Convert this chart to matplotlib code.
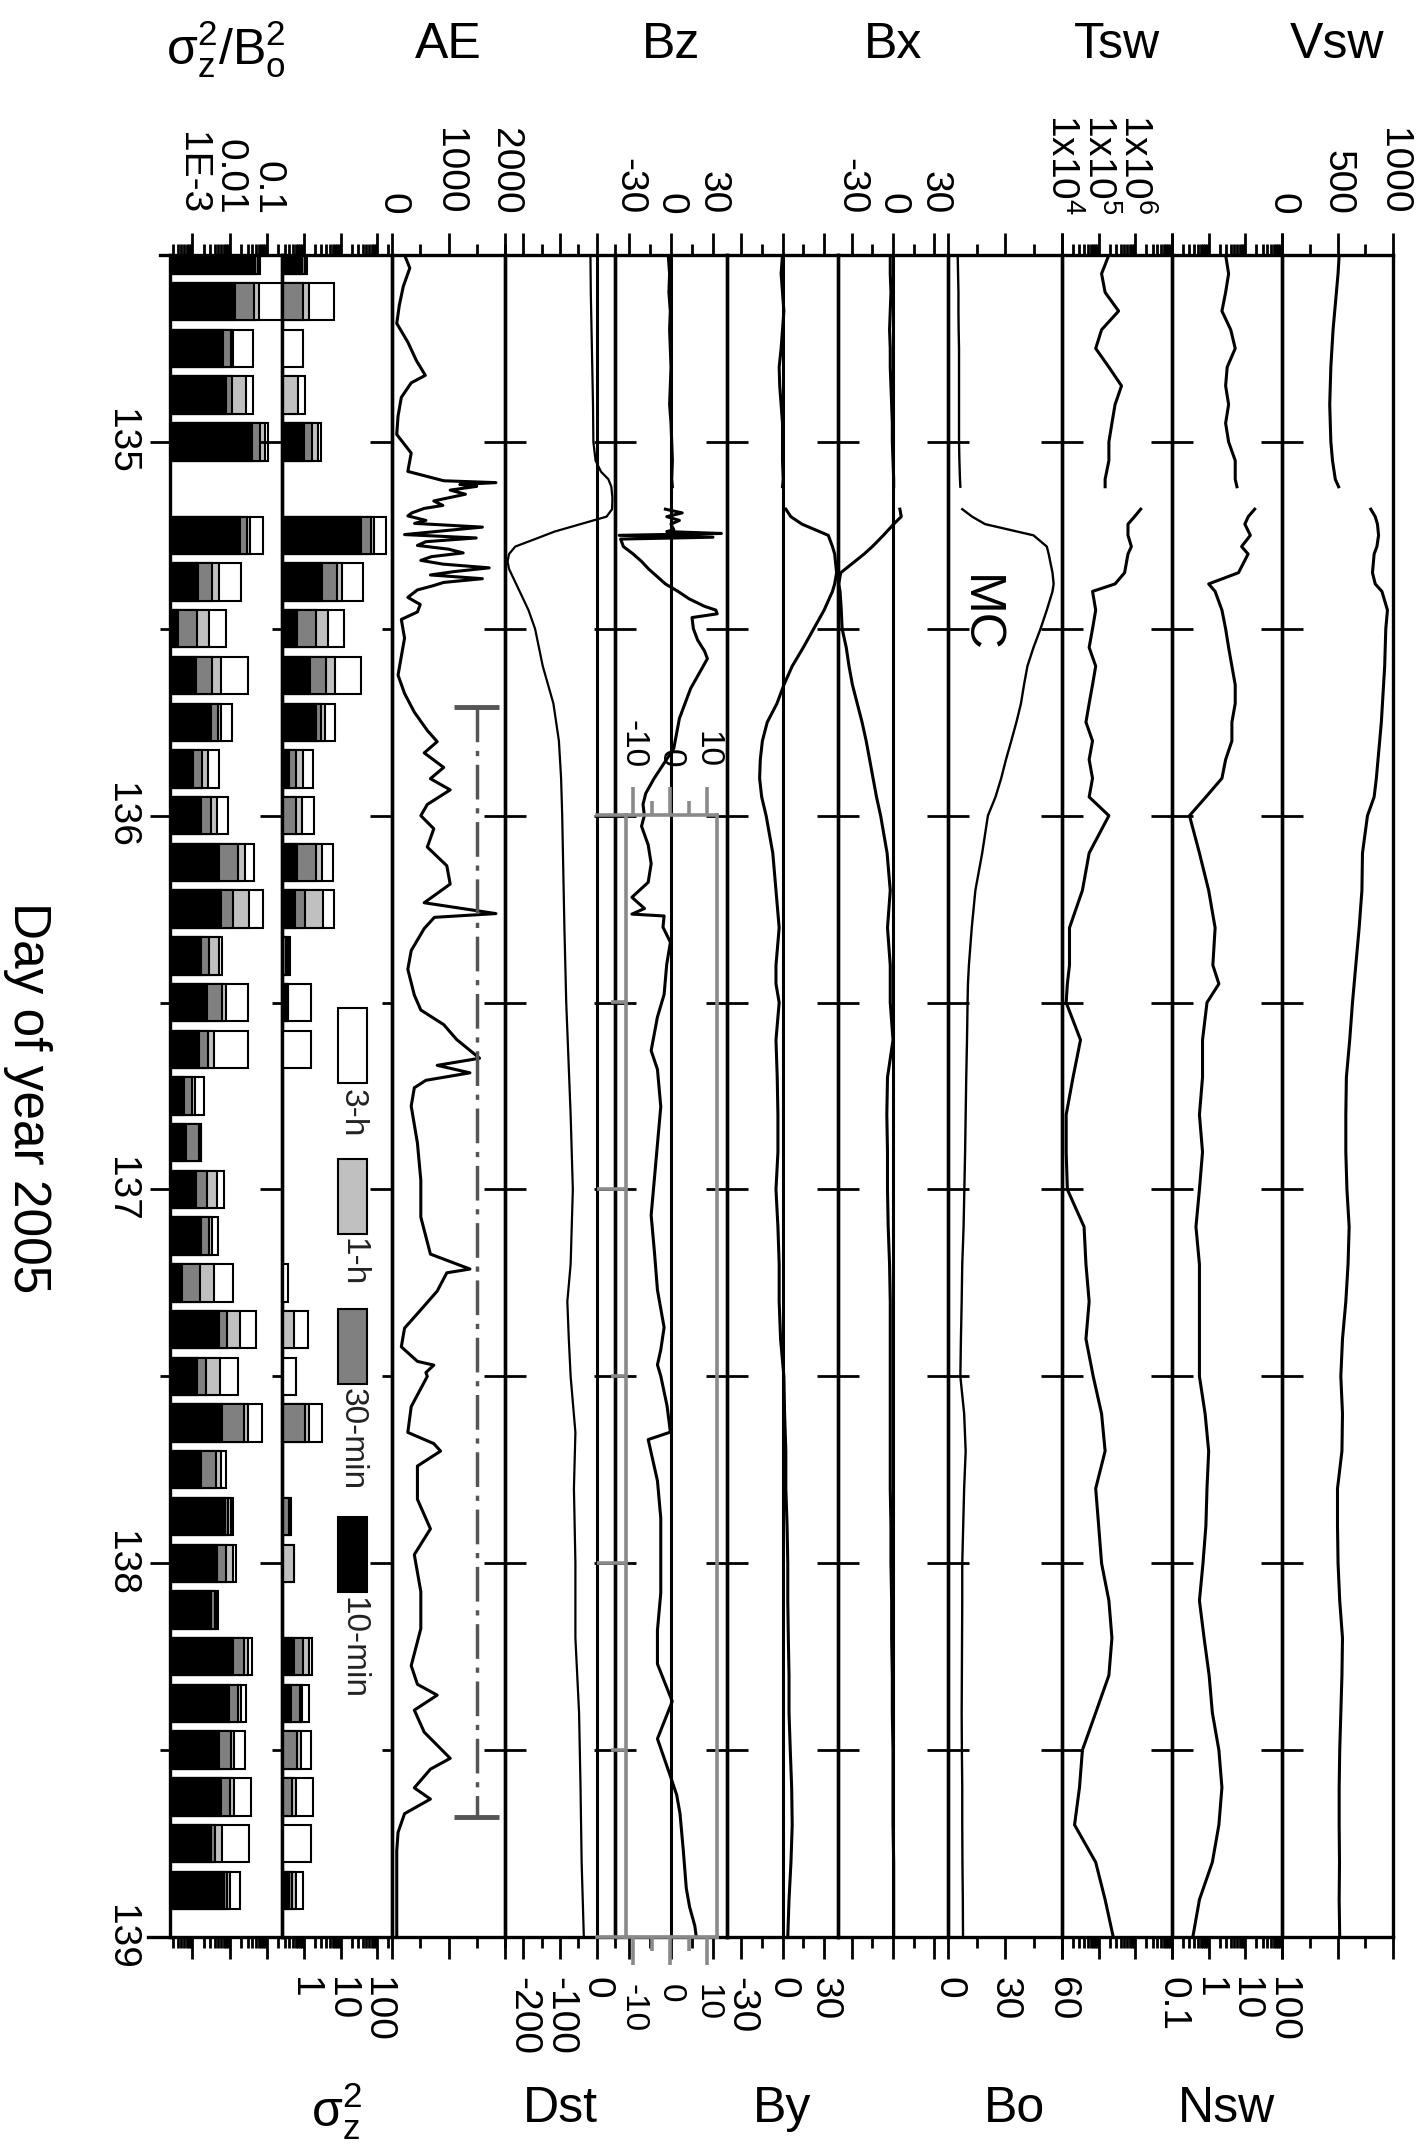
import numpy as np
import matplotlib
matplotlib.use("Agg")
import matplotlib.pyplot as plt
from matplotlib.ticker import FixedLocator, FixedFormatter, NullFormatter, LogLocator
from matplotlib.patches import Rectangle
from matplotlib.lines import Line2D
import matplotlib.transforms as mtransforms

plt.rcParams['font.family'] = ['Liberation Sans', 'DejaVu Sans']
plt.rcParams['mathtext.fontset'] = 'custom'
plt.rcParams['mathtext.rm'] = 'Liberation Sans'
plt.rcParams['mathtext.it'] = 'Liberation Sans:italic'
plt.rcParams['mathtext.bf'] = 'Liberation Sans:bold'
plt.rcParams['mathtext.sf'] = 'Liberation Sans'
plt.rcParams['mathtext.fallback'] = 'stixsans'

nan = np.nan

# ------------------------------------------------------------------ data
# 3-hour bar windows (day of year 2005)
bar_days = [134.500, 134.625, 134.750, 134.875, 135.000, 135.125, 135.250, 135.375,
            135.500, 135.625, 135.750, 135.875, 136.000, 136.125, 136.250, 136.375,
            136.500, 136.625, 136.750, 136.875, 137.000, 137.125, 137.250, 137.375,
            137.500, 137.625, 137.750, 137.875, 138.000, 138.125, 138.250, 138.375,
            138.500, 138.625, 138.750, 138.875]

# sigma_z^2 / B0^2
ratio_10min = [0.048, 0.014, 0.0065, 0.0080, 0.039, nan, 0.0183, 0.00145, 0.00042, 0.00125,
               0.0031, 0.00106, 0.0017, 0.0052, 0.0060, 0.00175, 0.0025, 0.0015, 0.0006, 0.00066,
               0.00123, 0.00168, 0.00052, 0.0052, 0.00136, 0.0064, 0.00175, 0.0074, 0.0047, 0.0031,
               0.0119, 0.0097, 0.0052, 0.0060, 0.0031, 0.0071]
ratio_30min = [0.057, 0.0435, 0.011, 0.0114, 0.066, nan, 0.0288, 0.0033, 0.0013, 0.0034,
               0.0050, 0.00178, 0.0032, 0.0168, 0.0119, 0.0028, 0.0061, 0.0026, 0.0010, 0.0015,
               0.0025, 0.0028, 0.0016, 0.0084, 0.0023, 0.0234, 0.0042, 0.0091, 0.0079, 0.0040,
               0.0234, 0.0168, 0.0111, 0.0103, 0.0041, 0.0087]
ratio_1h = [0.059, 0.059, 0.0126, 0.027, 0.089, nan, 0.0354, 0.0053, 0.0027, 0.0059,
            0.0059, 0.0026, 0.0045, 0.0254, 0.0333, 0.0052, 0.0079, 0.0038, 0.00115, 0.00168,
            0.0047, 0.0034, 0.0037, 0.019, 0.0055, 0.030, 0.0060, 0.0107, 0.0119, 0.0045,
            0.031, 0.020, 0.0131, 0.0131, 0.0064, 0.0103]
ratio_3h = [0.066, 0.25, 0.041, 0.042, 0.105, nan, 0.077, 0.020, 0.0080, 0.030,
            0.0114, 0.0052, 0.0089, 0.0435, 0.076, 0.0064, 0.030, 0.030, 0.0020, 0.00175,
            0.0071, 0.0049, 0.0126, 0.050, 0.0168, 0.071, 0.0079, 0.0119, 0.0146, 0.0049,
            0.039, 0.028, 0.026, 0.038, 0.033, 0.019]

# sigma_z^2
var_10min = [0.90, nan, nan, nan, 1.02, nan, 36.9, 3.1, 0.66, 1.45,
             2.06, 0.38, nan, 0.66, 0.56, nan, 0.34, nan, nan, nan,
             nan, nan, nan, nan, nan, nan, nan, nan, nan, nan,
             0.52, 0.44, nan, nan, nan, 0.38]
var_30min = [1.06, 0.96, nan, nan, 1.61, nan, 65.6, 8.0, 2.19, 4.06,
             2.98, 0.60, 0.61, 2.19, 1.04, 0.32, 0.355, nan, nan, nan,
             nan, nan, nan, nan, nan, 1.04, nan, 0.395, nan, nan,
             0.96, 0.78, 0.66, 0.47, nan, 0.47]
var_1h = [1.11, 1.36, nan, 0.68, 2.43, nan, 80.7, 10.7, 4.5, 6.8,
          3.66, 0.96, 0.87, 3.1, 3.3, 0.36, 0.36, nan, nan, nan,
          nan, nan, nan, 0.52, nan, 1.36, nan, 0.42, 0.52, nan,
          1.36, 0.90, 0.85, 0.60, nan, 0.60]
var_3h = [1.18, 6.5, 0.96, 1.06, 2.98, nan, 177.0, 41.7, 12.6, 35.4,
          7.2, 1.78, 1.89, 6.1, 6.4, 0.42, 1.51, 1.57, nan, nan,
          nan, nan, 0.36, 1.28, 0.60, 3.1, nan, 0.44, 0.54, nan,
          1.67, 1.36, 1.51, 1.78, 1.51, 0.96]

# solar wind time base (nan row = data gap)
t_sw = [134.50, 134.55, 134.60, 134.65, 134.70, 134.75, 134.80, 134.85, 134.90, 134.95,
        135.00, 135.05, 135.10, 135.12, 135.15,
        135.18, 135.20, 135.22, 135.25, 135.28, 135.30, 135.35, 135.38, 135.40, 135.45,
        135.50, 135.55, 135.60, 135.65, 135.70, 135.75, 135.80, 135.85, 135.90, 135.95, 136.00,
        136.10, 136.20, 136.30, 136.40, 136.45, 136.50, 136.60, 136.70, 136.80, 136.90,
        137.00, 137.10, 137.20, 137.30, 137.40, 137.50, 137.60, 137.70, 137.80, 137.90,
        138.00, 138.10, 138.20, 138.30, 138.40, 138.50, 138.60, 138.70, 138.80, 138.90, 139.00]
vsw = [515, 505, 490, 475, 460, 450, 440, 435, 430, 435, 440, 455, 480, 510, nan,
       800, 840, 860, 870, 855, 830, 815, 840, 900, 950, 935, 930, 925, 915, 905, 895, 880, 865, 850, 830, 770,
       725, 720, 695, 665, 650, 635, 610, 580, 575, 575, 585, 605, 595, 575, 545, 530, 545, 540, 500, 500,
       505, 520, 545, 540, 530, 520, 515, 515, 518, 515, 520]
nsw = [2.9, 3.5, 2.9, 2.3, 4.0, 5.3, 3.2, 2.9, 3.5, 2.9, 3.5, 5.3, 5.3, 5.9, nan,
       18, 12, 9.7, 13.7, 7.9, 11.9, 6.5, 1.0, 1.5, 2.3, 2.9, 3.5, 4.3, 5.3, 5.3, 4.3, 4.3, 2.9, 2.3, 0.84, 0.30,
       0.56, 1.0, 1.5, 1.3, 1.9, 0.9, 0.68, 0.68, 0.56, 0.68, 0.56, 0.45, 0.56, 0.56, 0.56, 0.56,
       0.8, 1.0, 0.9, 0.84, 0.7, 0.56, 0.75, 1.03, 1.26, 1.9, 2.3, 1.9, 1.26, 0.56, 0.37]
tsw = [1.9e5, 1.2e5, 1.5e5, 3.5e5, 1.2e5, 8.3e4, 1.9e5, 4.2e5, 2.8e5, 2.3e5, 1.9e5, 1.9e5, 1.5e5, 1.5e5, nan,
       1.4e6, 9.5e5, 6.3e5, 6.3e5, 7.8e5, 6.3e5, 5.1e5, 2.8e5, 6.8e4, 8.3e4, 6.8e4, 5.5e4, 8.3e4, 6.8e4,
       5.5e4, 4.5e4, 6.8e4, 5.5e4, 6.8e4, 5.5e4, 1.9e5,
       5.5e4, 3.6e4, 1.6e4, 1.6e4, 1.4e4, 1.3e4, 3.2e4, 2.0e4, 1.3e4, 1.3e4, 1.4e4, 4.0e4, 4.5e4, 5.5e4,
       4.5e4, 7.1e4, 1.2e5, 1.5e5, 8.3e4, 1.0e5, 1.2e5, 1.9e5, 2.3e5, 1.9e5, 8.3e4, 3.6e4, 3.0e4, 2.2e4,
       8.3e4, 1.5e5, 2.5e5]
bo = [5.1, 5.3, 5.5, 5.5, 5.6, 5.8, 5.8, 5.8, 5.8, 5.8, 5.8, 6.0, 6.3, 6.5, nan,
      7.5, 12.7, 19.5, 45, 52, 53, 55, 55.6, 55, 52, 48.7, 45, 41.8, 40, 38.4, 36, 33.3, 30.5, 28, 25, 21,
      18, 14.4, 12.5, 11, 10.5, 10.3, 10, 9.6, 9.3, 9.0, 8.6, 8.2, 7.5, 7.2, 6.8, 6.5,
      8.5, 9.3, 8.5, 8, 7.5, 7.5, 7.4, 7.3, 7.2, 7.3, 7.5, 7.5, 7.6, 7.8, 7.9]
bx = [-2, -2, -1.5, -2, -2.5, -2, -2, -1.5, -1, -0.5, -0.5, 0, 0.5, 0.5, nan,
      5, 6, 0.5, -7, -15, -21, -38, -39.5, -38.5, -37.6, -37, -34, -32, -29.5, -26, -22.5, -19.5, -17, -14.5, -12, -9,
      -4.3, -2, -4, -2, -2, -2, 0, -4, -4.5, -4, -4, -3.5, -2.5, -2, -2, -2,
      -2, -2, -2, -1.5, -1.5, -1, -1, -0.5, -0.5, 0, 0, 0, 0.5, 0.5, 0.5]
by = [0, -1, 0, 1, 0, -1, -2.4, -2, -1, 0, 0, 0, 0.5, 0, nan,
      2.4, 6, 14, 33, 36, 37.6, 39, 37.6, 36, 30, 22.5, 15, 7, 1, -4, -11, -14.5, -16, -16.5, -15, -11.8,
      -7, -4.7, -2.4, -4.7, -4.7, -2.4, -4.7, -3.8, -3.3, -3.3, -4.7, -3.3, -2.4, -2.4, -1.4, 1,
      1.5, 2.4, 2.4, 3.3, 3.8, 3.8, 4.2, 4.7, 4.7, 5.6, 6.6, 7, 6.1, 4.7, 3.8]

# Bz on the main scale (until day 136)
t_bz = [134.50, 134.55, 134.60, 134.65, 134.70, 134.75, 134.80, 134.85, 134.90, 134.95,
        135.00, 135.05, 135.10, 135.12, 135.15, 135.18, 135.19, 135.20, 135.21, 135.22,
        135.235, 135.24, 135.245, 135.25, 135.255, 135.26, 135.28, 135.30, 135.32, 135.34,
        135.36, 135.38, 135.40, 135.42, 135.44, 135.45, 135.46, 135.47, 135.50, 135.53,
        135.56, 135.58, 135.62, 135.66, 135.70, 135.74, 135.78, 135.82, 135.86, 135.90,
        135.94, 135.97, 136.00]
bz = [-2, -1, -1.5, -0.5, -1, -0.5, 0, -0.5, -1, 0,
      0.5, 1, 0.5, 1, nan, -4, 8, -3, 6, 0,
      2, -3, 36, -37, 30, -36, -34, -27, -21, -16,
      -10, -4, 5, 13, 24, 32, 33, 15, 16, 19,
      24, 26, 20, 14, 10, 6, 4, 2, -5, -12,
      -18, -20, -19]
# Bz on the magnified inset scale (days 136-139)
t_bz_inset = [136.00, 136.03, 136.08, 136.13, 136.18, 136.22, 136.25, 136.265, 136.27, 136.30,
              136.34, 136.40, 136.48, 136.54, 136.63, 136.68, 136.78, 136.88, 136.97, 137.07,
              137.17, 137.27, 137.37, 137.43, 137.47, 137.50, 137.58, 137.65, 137.67, 137.78,
              137.88, 137.98, 138.08, 138.18, 138.27, 138.37, 138.47, 138.57, 138.62, 138.67,
              138.77, 138.87, 138.92, 138.97, 139.00]
bz_inset = [-7, -7.8, -6, -5.2, -6, -10.4, -7, -10.4, -1.7, -2,
            0, -1, -1.7, -3.5, -5.2, -3.5, -2.6, -3.5, -4.3, -5.2,
            -4.3, -3.5, -1.7, -2.6, -3.5, -2.6, -0.9, 0, -6, -3.5,
            -2.6, -2.6, -2.6, -3.5, -3.5, 0.5, -3.5, 0, 1.7, 2.6,
            3.5, 4.3, 5.2, 6.6, 7]

t_dst = [134.50, 134.60, 134.70, 134.80, 134.90, 135.00, 135.05, 135.08, 135.10, 135.12,
         135.15, 135.18, 135.20, 135.22, 135.24, 135.26, 135.28, 135.30, 135.32, 135.34,
         135.40, 135.45, 135.50, 135.60, 135.70, 135.80, 135.90, 136.00, 136.30, 136.50,
         136.80, 137.00, 137.20, 137.30, 137.40, 137.50, 137.65, 137.80, 138.00, 138.20,
         138.40, 138.60, 138.80, 139.00]
dst = [-17, -16, -14, -12, -10, -9, -3, 12, 32, 40,
       43, 42, 27, -44, -115, -168, -222, -239, -243, -239,
       -210, -186, -168, -147, -118, -103, -97, -94, -88, -83,
       -71, -65, -71, -80, -76, -71, -58, -62, -58, -58,
       -48, -44, -41, -35]

t_ae = [134.500, 134.535, 134.584, 134.634, 134.683, 134.733, 134.782, 134.822, 134.842, 134.881,
        134.931, 134.980, 135.030, 135.079, 135.104, 135.109, 135.114, 135.119, 135.129, 135.140,
        135.158, 135.170, 135.178, 135.190, 135.198, 135.210, 135.218, 135.228, 135.238, 135.248,
        135.257, 135.267, 135.277, 135.287, 135.297, 135.307, 135.317, 135.327, 135.337, 135.347,
        135.356, 135.366, 135.376, 135.386, 135.396, 135.416, 135.435, 135.455, 135.475, 135.525,
        135.574, 135.624, 135.673, 135.723, 135.772, 135.802, 135.832, 135.871, 135.901, 135.931,
        135.970, 136.000, 136.035, 136.084, 136.134, 136.183, 136.233, 136.262, 136.272, 136.302,
        136.361, 136.411, 136.480, 136.520, 136.559, 136.599, 136.649, 136.668, 136.688, 136.708,
        136.728, 136.777, 136.876, 136.975, 137.074, 137.173, 137.213, 137.223, 137.272, 137.322,
        137.371, 137.421, 137.460, 137.470, 137.490, 137.500, 137.581, 137.650, 137.680, 137.700,
        137.740, 137.829, 137.908, 137.977, 138.076, 138.175, 138.274, 138.324, 138.353, 138.393,
        138.452, 138.522, 138.551, 138.601, 138.631, 138.670, 138.720, 138.770, 138.868, 139.000]
ae = [222, 315, 200, 130, 84, 280, 430, 590, 340, 165,
      107, 84, 340, 280, 915, 1840, 1200, 1500, 1030, 1300,
      740, 900, 570, 350, 280, 600, 400, 1600, 900, 222,
      1490, 600, 450, 1000, 1260, 700, 510, 900, 1720, 1100,
      680, 1600, 915, 700, 450, 280, 500, 450, 165, 222,
      165, 107, 222, 395, 625, 800, 570, 915, 680, 1030,
      625, 510, 740, 625, 970, 1030, 570, 1840, 750, 570,
      340, 280, 395, 510, 915, 1145, 1550, 800, 1380, 600,
      395, 340, 450, 510, 510, 680, 1380, 970, 800, 510,
      222, 165, 450, 740, 600, 625, 340, 280, 740, 860,
      450, 450, 680, 395, 510, 510, 340, 450, 800, 395,
      570, 1030, 680, 395, 680, 222, 107, 84, 84, 84]

# recovery-period marker drawn in the AE panel
ae_period = [135.71, 138.68]
ae_period_level = 1500
ae_period_cap = [1100, 1900]

# axis labels / ticks
day_ticks = [135, 136, 137, 138, 139]
day_labels = ['135', '136', '137', '138', '139']
half_days = [135.5, 136.5, 137.5, 138.5]
data_day_ticks = [135.0, 135.5, 136.0, 136.5, 137.0, 137.5, 138.0, 138.5]

# ------------------------------------------------------------------ layout
W, H = 1423, 2150
fig = plt.figure(figsize=(W / 100, H / 100), dpi=100)
EDGES = [170, 282, 392, 505, 615, 727, 838, 948, 1062, 1172, 1282, 1393]
TOP, BOT = 255, 1937


def fbox(x0, x1, y0, y1):
    return [x0 / W, 1 - y1 / H, (x1 - x0) / W, (y1 - y0) / H]


PANELS = [
    dict(scale='log', lim=(10 ** -3.6, 10 ** -0.6), major=[1e-3, 1e-2, 1e-1],
         labels=['1E-3', '0.01', '0.1'], minor='log', side='top'),
    dict(scale='log', lim=(10 ** -0.6, 10 ** 2.4), major=[1, 10, 100],
         labels=['1', '10', '100'], minor='log', side='bottom'),
    dict(scale='linear', lim=(0, 2000), major=[0, 1000, 2000],
         labels=['0', '1000', '2000'], minor=[500, 1500], side='top'),
    dict(scale='linear', lim=(-250, 50), major=[-200, -100, 0],
         labels=['-200', '-100', '0'], minor=[-250, -150, -50, 50], side='bottom'),
    dict(scale='linear', lim=(-40, 40), major=[-30, 0, 30],
         labels=['-30', '0', '30'], minor=[-15, 15], side='top'),
    dict(scale='linear', lim=(-40, 40), major=[-30, 0, 30],
         labels=['-30', '0', '30'], minor=[-15, 15], side='bottom'),
    dict(scale='linear', lim=(-40, 40), major=[-30, 0, 30],
         labels=['-30', '0', '30'], minor=[-15, 15], side='top'),
    dict(scale='linear', lim=(0, 60), major=[0, 30, 60],
         labels=['0', '30', '60'], minor=[15, 45], side='bottom'),
    dict(scale='log', lim=(1e4, 1e7), major=[1e4, 1e5, 1e6, 1e7],
         labels=[r'$\mathregular{1x10^{4}}$', r'$\mathregular{1x10^{5}}$',
                 r'$\mathregular{1x10^{6}}$', ''], minor='log', side='top'),
    dict(scale='log', lim=(0.1, 100), major=[0.1, 1, 10, 100],
         labels=['0.1', '1', '10', '100'], minor='log', side='bottom'),
    dict(scale='linear', lim=(0, 1000), major=[0, 500, 1000],
         labels=['0', '500', '1000'], minor=[250, 750], side='top'),
]

SP_LW = 2.4
axes = []
for i, p in enumerate(PANELS):
    ax = fig.add_axes(fbox(EDGES[i], EDGES[i + 1], TOP, BOT))
    ax.patch.set_visible(False)
    ax.set_xscale(p['scale'])
    ax.set_xlim(*p['lim'])
    ax.xaxis.set_major_locator(FixedLocator(p['major']))
    ax.xaxis.set_major_formatter(FixedFormatter(p['labels']))
    if p['minor'] == 'log':
        ax.xaxis.set_minor_locator(LogLocator(base=10, subs=np.arange(2, 10), numticks=30))
    else:
        ax.xaxis.set_minor_locator(FixedLocator(p['minor']))
    ax.xaxis.set_minor_formatter(NullFormatter())
    top = p['side'] == 'top'
    ax.tick_params(axis='x', which='both', direction='out', top=True, bottom=True,
                   labeltop=top, labelbottom=not top, width=2, labelsize=28,
                   labelrotation=-90, pad=13)
    ax.tick_params(axis='x', which='major', length=16)
    ax.tick_params(axis='x', which='minor', length=8)

    ax.set_ylim(139, 134.5)
    if i <= 2:
        ax.yaxis.set_major_locator(FixedLocator(day_ticks))
        ax.yaxis.set_minor_locator(FixedLocator(half_days))
        if i == 0:
            ax.yaxis.set_major_formatter(FixedFormatter(day_labels))
            ax.tick_params(axis='y', which='both', direction='out', left=True, right=False,
                           labelleft=True, labelright=False, width=2, labelsize=28,
                           labelrotation=-90, pad=8)
            ax.tick_params(axis='y', which='major', length=14.5)
        else:
            ax.tick_params(axis='y', which='both', direction='out', left=True, right=False,
                           labelleft=False, labelright=False, width=2)
            ax.tick_params(axis='y', which='major', length=16)
        ax.tick_params(axis='y', which='minor', length=7.2)
    else:
        ax.yaxis.set_major_locator(FixedLocator(data_day_ticks))
        ax.tick_params(axis='y', which='major', direction='inout', left=True, right=False,
                       labelleft=False, labelright=False, width=2, length=30)
    for sp in ax.spines.values():
        sp.set_linewidth(SP_LW)
    axes.append(ax)

for lab in axes[0].get_yticklabels():
    lab.set_verticalalignment('center')

# ------------------------------------------------------------------ bars
bar_days_a = np.array(bar_days)
for ax, series in ((axes[0], (ratio_3h, ratio_1h, ratio_30min, ratio_10min)),
                   (axes[1], (var_3h, var_1h, var_30min, var_10min))):
    lo = ax.get_xlim()[0]
    for vals, col in zip(series, ('white', '#c0c0c0', '#808080', 'black')):
        v = np.array(vals, dtype=float)
        m = np.isfinite(v) & (v > lo)
        ax.barh(bar_days_a[m], v[m] - lo, left=lo, height=0.1, color=col,
                edgecolor='black', linewidth=1.5, zorder=2)

# legend for the bars
trans = mtransforms.blended_transform_factory(axes[1].transAxes, axes[1].transData)
leg_items = [('white', '3-h', 136.514, 136.73), ('#c0c0c0', '1-h', 136.918, 137.13),
             ('#808080', '30-min', 137.32, 137.53), ('black', '10-min', 137.877, 138.09)]
for col, txt, y0, ytxt in leg_items:
    axes[1].add_patch(Rectangle((0.509, y0), 0.264, 0.2, transform=trans, facecolor=col,
                                edgecolor='black', linewidth=1.5, zorder=3))
    axes[1].text(0.641, ytxt, txt, transform=trans, rotation=-90, ha='center', va='top',
                 fontsize=24, color='#222222')

# ------------------------------------------------------------------ lines
LW = 2.2
axes[2].plot(ae, t_ae, color='k', lw=LW)
axes[2].plot([ae_period_level, ae_period_level], ae_period, color='#555555', lw=2.5,
             dashes=(10, 2.5, 1.5, 2.5))
for yy in ae_period:
    axes[2].plot(ae_period_cap, [yy, yy], color='#555555', lw=3.5, solid_capstyle='butt')

axes[3].axvline(0, color='k', lw=2.2)
axes[3].plot(dst, t_dst, color='k', lw=1.6)

axes[4].axvline(0, color='k', lw=2.2)
axes[4].plot(bz, t_bz, color='k', lw=LW)

axes[5].axvline(0, color='k', lw=2.2)
axes[5].plot(by, t_sw, color='k', lw=LW)

axes[6].axvline(0, color='k', lw=2.2)
axes[6].plot(bx, t_sw, color='k', lw=LW)

axes[7].plot(bo, t_sw, color='k', lw=1.7)
axes[8].plot(tsw, t_sw, color='k', lw=LW)
axes[9].plot(nsw, t_sw, color='k', lw=LW)
axes[10].plot(vsw, t_sw, color='k', lw=LW)

# ------------------------------------------------------------------ Bz inset (magnified scale)
gray = '#8a8a8a'
axi = fig.add_axes(fbox(626, 717, 815, BOT))
axi.patch.set_visible(False)
axi.set_xlim(-12, 12.6)
axi.set_ylim(139, 136)
for sp in axi.spines.values():
    sp.set_color(gray)
    sp.set_linewidth(2.6)
axi.xaxis.set_major_locator(FixedLocator([-10, 0, 10]))
axi.xaxis.set_major_formatter(FixedFormatter(['-10', '0', '10']))
axi.xaxis.set_minor_locator(FixedLocator([-5, 5]))
axi.xaxis.set_minor_formatter(NullFormatter())
axi.tick_params(axis='x', which='both', direction='out', top=True, bottom=True,
                labeltop=True, labelbottom=True, color=gray, width=2.6, labelsize=24,
                labelrotation=-90, pad=14)
axi.tick_params(axis='x', which='major', length=20)
axi.tick_params(axis='x', which='minor', length=10)
axi.yaxis.set_major_locator(FixedLocator([137, 138]))
axi.yaxis.set_minor_locator(FixedLocator(half_days[1:]))
axi.tick_params(axis='y', which='both', direction='out', left=True, right=False,
                labelleft=False, color=gray, width=2.6)
axi.tick_params(axis='y', which='major', length=21)
axi.tick_params(axis='y', which='minor', length=11)
axi.plot(bz_inset, t_bz_inset, color='k', lw=LW)
for yy in (136, 139):
    axi.plot([-19.8, -12], [yy, yy], color=gray, lw=2.6, clip_on=False)

# ------------------------------------------------------------------ extra frame bits
fig.add_artist(Line2D([148 / W, 170 / W], [1 - BOT / H] * 2, color='k', lw=SP_LW))
fig.add_artist(Line2D([160 / W, 170 / W], [1 - TOP / H] * 2, color='k', lw=SP_LW))

# ------------------------------------------------------------------ labels
centers = [(EDGES[i] + EDGES[i + 1]) / 2 for i in range(11)]
top_titles = {0: r'$\mathregular{\sigma_z^2/B_o^2}$', 2: 'AE', 4: 'Bz', 6: 'Bx', 8: 'Tsw', 10: 'Vsw'}
bot_titles = {1: r'$\mathregular{\sigma_z^2}$', 3: 'Dst', 5: 'By', 7: 'Bo', 9: 'Nsw'}
for i, txt in top_titles.items():
    yb = 65 if i == 0 else 58
    fig.text(centers[i] / W, 1 - yb / H, txt, ha='center', va='baseline', fontsize=36)
for i, txt in bot_titles.items():
    yb = 2127 if i == 1 else 2122
    xc = 1015 if i == 7 else centers[i]
    fig.text(xc / W, 1 - yb / H, txt, ha='center', va='baseline', fontsize=36)

fig.text(27 / W, 1 - 1098 / H, 'Day of year 2005', rotation=-90, ha='center', va='center',
         fontsize=37)
fig.text(979 / W, 1 - 614 / H, 'MC', rotation=-90, ha='center', va='center', fontsize=36)

fig.savefig('out.png', dpi=100)
